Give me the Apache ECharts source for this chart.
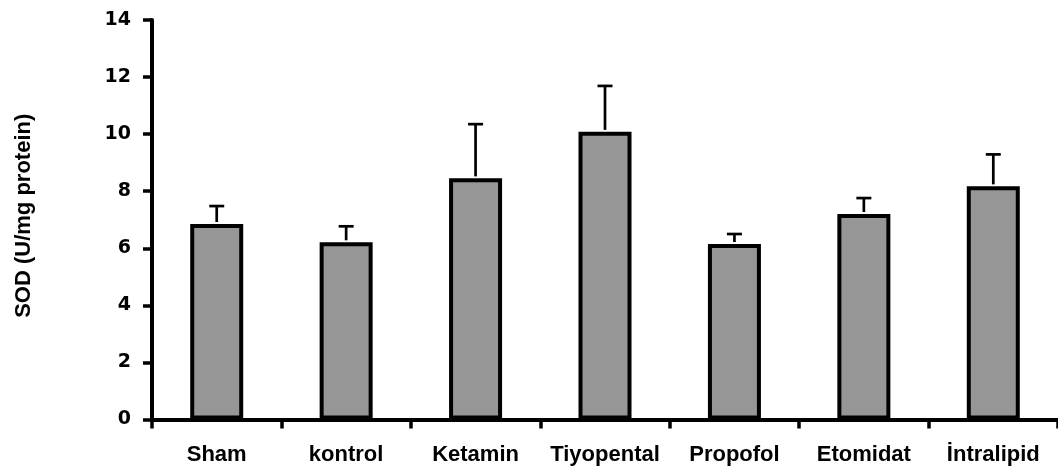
<!DOCTYPE html>
<html>
<head>
<meta charset="utf-8">
<script src="https://cdn.jsdelivr.net/npm/echarts@6/dist/echarts.min.js"></script>
<style>
html,body{margin:0;padding:0;background:#fff;}
#chart{width:1058px;height:473px;}
</style>
</head>
<body>
<div id="chart"></div>
<script>
const categories = ['Sham', 'kontrol', 'Ketamin', 'Tiyopental', 'Propofol', 'Etomidat', 'İntralipid'];
const means = [6.85, 6.21, 8.45, 10.08, 6.15, 7.20, 8.17];
const upperErrors = [7.48, 6.77, 10.35, 11.69, 6.50, 7.76, 9.29];
const yTicks = [0, 2, 4, 6, 8, 10, 12, 14];
const yTitle = 'SOD (U/mg protein)';

const errData = categories.map((c, i) => [i, means[i], upperErrors[i]]);

const chart = echarts.init(document.getElementById('chart'), null, {renderer: 'canvas'});
chart.setOption({
  animation: false,
  backgroundColor: '#ffffff',
  grid: {left: 152, top: 20, width: 907, height: 399.5, containLabel: false},
  xAxis: [{
    type: 'category',
    data: categories,
    boundaryGap: true,
    axisLine: {lineStyle: {color: '#000', width: 4}},
    axisTick: {show: true, length: 9, lineStyle: {color: '#000', width: 3.5}},
    axisLabel: {color: '#000', fontFamily: 'Liberation Sans', fontWeight: 'bold', fontSize: 22, margin: 24, interval: 0}
  }, {
    type: 'category',
    data: categories,
    position: 'bottom',
    boundaryGap: true,
    axisLine: {show: false},
    axisTick: {show: true, inside: true, alignWithLabel: true, length: 7, lineStyle: {color: '#000', width: 3.5}},
    axisLabel: {show: false},
    splitLine: {show: false}
  }],
  yAxis: {
    type: 'value',
    min: yTicks[0],
    max: yTicks[yTicks.length - 1],
    interval: 2,
    name: yTitle,
    nameLocation: 'middle',
    nameRotate: 90,
    nameGap: 117,
    nameTextStyle: {color: '#000', fontFamily: 'Liberation Sans', fontWeight: 'bold', fontSize: 22, padding: [0, 0, 0, 8]},
    axisLine: {show: true, lineStyle: {color: '#000', width: 4}},
    axisTick: {show: true, length: 9, lineStyle: {color: '#000', width: 3.5}},
    axisLabel: {color: '#000', fontFamily: 'DejaVu Sans', fontWeight: 'bold', fontSize: 19, margin: 21},
    splitLine: {show: false}
  },
  series: [{
    type: 'bar',
    data: means,
    barWidth: 53,
    itemStyle: {color: '#969696', borderColor: '#000', borderWidth: 4},
    z: 2
  }, {
    type: 'custom',
    data: errData,
    encode: {x: 0, y: [1, 2]},
    z: 3,
    renderItem: function (params, api) {
      const i = api.value(0);
      const lo = api.coord([i, api.value(1)]);
      const hi = api.coord([i, api.value(2)]);
      const half = 7.5;
      const style = {stroke: '#000', lineWidth: 2.7, fill: null};
      return {
        type: 'group',
        children: [
          {type: 'line', shape: {x1: lo[0], y1: lo[1] - 2, x2: hi[0], y2: hi[1]}, style: style},
          {type: 'line', shape: {x1: hi[0] - half, y1: hi[1], x2: hi[0] + half, y2: hi[1]}, style: style}
        ]
      };
    }
  }]
});
</script>
</body>
</html>
